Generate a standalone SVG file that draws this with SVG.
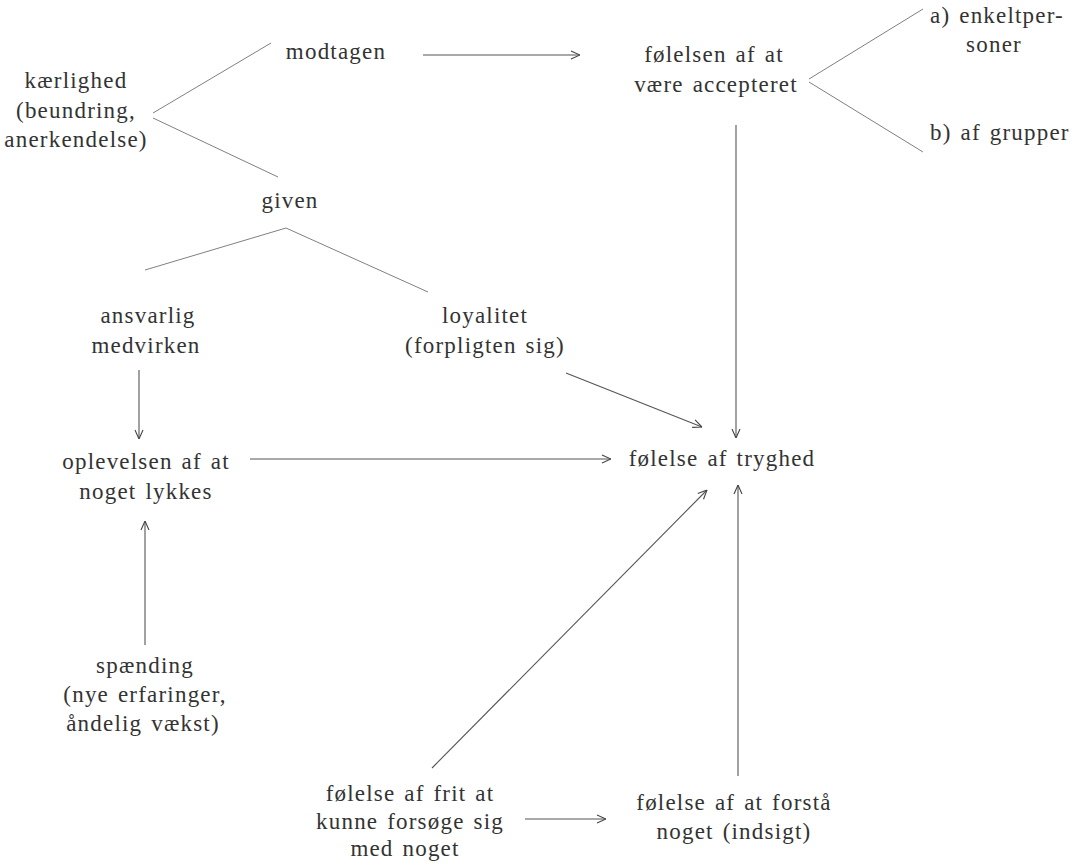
<svg xmlns="http://www.w3.org/2000/svg" width="1089" height="862" viewBox="0 0 1089 862">
<style>
text{font-family:"Liberation Serif","DejaVu Serif",serif;font-size:23px;fill:#333;text-anchor:middle;letter-spacing:1.2px;word-spacing:2px}
.s{text-anchor:start}
.l{stroke:#808080;stroke-width:1;fill:none}
.a{stroke:#555;stroke-width:1.1;fill:none;marker-end:url(#ah)}
</style>
<defs>
<marker id="ah" viewBox="0 0 10 10" refX="10" refY="5" markerWidth="10" markerHeight="10" markerUnits="userSpaceOnUse" orient="auto">
<path d="M1,1 L10,5 L1,9" fill="none" stroke="#444" stroke-width="1.1"/>
</marker>
</defs>
<rect width="1089" height="862" fill="#fff"/>
<g id="connectors">
<line class="l" x1="153" y1="113" x2="271" y2="43"/>
<line class="l" x1="153" y1="118" x2="278" y2="177"/>
<line class="a" x1="423" y1="55" x2="580" y2="55"/>
<line class="l" x1="809" y1="79" x2="923" y2="9"/>
<line class="l" x1="809" y1="82" x2="923" y2="152"/>
<line class="l" x1="286" y1="228" x2="145" y2="270"/>
<line class="l" x1="286" y1="228" x2="428" y2="292"/>
<line class="a" x1="139" y1="370" x2="139" y2="439"/>
<line class="a" x1="250" y1="459" x2="611" y2="459"/>
<line class="a" x1="566" y1="373" x2="702" y2="427"/>
<line class="a" x1="736" y1="125" x2="736" y2="438"/>
<line class="a" x1="738" y1="776" x2="738" y2="485"/>
<line class="a" x1="432" y1="768" x2="707" y2="490"/>
<line class="a" x1="145" y1="645" x2="145" y2="521"/>
<line class="a" x1="525" y1="819" x2="606" y2="819"/>
</g>
<g id="kaerlighed"><text x="76" y="88">kærlighed</text><text x="76" y="118">(beundring,</text><text x="76" y="147">anerkendelse)</text></g>
<g id="modtagen"><text x="336" y="59">modtagen</text></g>
<g id="foelelsen-accepteret"><text x="714" y="62">følelsen af at</text><text x="716" y="92">være accepteret</text></g>
<g id="enkeltpersoner"><text class="s" x="930" y="23">a) enkeltper-</text><text x="994" y="52">soner</text></g>
<g id="grupper"><text class="s" x="930" y="140">b) af grupper</text></g>
<g id="given"><text x="290" y="208">given</text></g>
<g id="ansvarlig"><text x="148" y="323">ansvarlig</text><text x="146" y="353">medvirken</text></g>
<g id="loyalitet"><text x="485" y="323">loyalitet</text><text x="485" y="353">(forpligten sig)</text></g>
<g id="oplevelsen"><text x="146" y="469">oplevelsen af at</text><text x="146" y="499">noget lykkes</text></g>
<g id="tryghed"><text x="722" y="466">følelse af tryghed</text></g>
<g id="spaending"><text x="145" y="673">spænding</text><text x="145" y="702">(nye erfaringer,</text><text x="143" y="731">åndelig vækst)</text></g>
<g id="frit"><text x="410" y="801">følelse af frit at</text><text x="410" y="829">kunne forsøge sig</text><text x="405" y="856">med noget</text></g>
<g id="forstaa"><text x="734" y="810">følelse af at forstå</text><text x="734" y="839">noget (indsigt)</text></g>
</svg>
